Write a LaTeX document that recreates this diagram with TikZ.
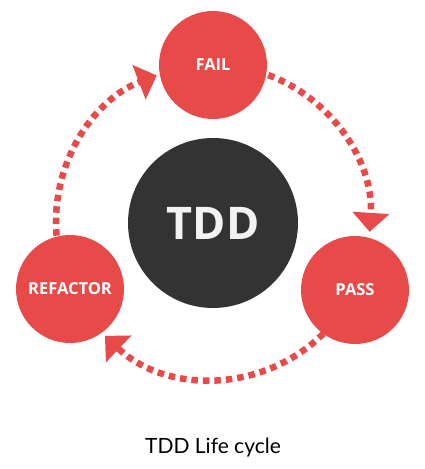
\documentclass[tikz,border=0pt]{standalone}
\usepackage{fontspec}
\setmainfont{Open Sans}
\newfontfamily\capfont{Lato}
\usetikzlibrary{arrows.meta,calc}
\definecolor{tddred}{HTML}{E84A4A}
\definecolor{tdddark}{HTML}{333333}
\definecolor{tddtext}{HTML}{F2F2F2}
\tikzset{
  stage/.style={circle, fill=tddred, minimum size=108pt, inner sep=0pt, text=white, font=\fontsize{16.5}{19}\selectfont\bfseries},
  core/.style={circle, fill=tdddark, minimum size=170pt, inner sep=0pt, text=tddtext, font=\fontsize{45}{50}\selectfont\bfseries},
  cyc/.style={draw=tddred, line width=6.5pt, dash pattern=on 6.5pt off 5pt, line cap=butt,
    -{Triangle[width=36pt,length=19pt]}, fill=none}
}
\begin{document}
\begin{tikzpicture}[x=1pt,y=1pt]
\useasboundingbox (0,0) rectangle (425,469);
\coordinate (C) at (213,247);
\node[core] (tdd) at (213,246) {TDD};
\node[stage] (fail) at (213,404) {FAIL};
\node[stage] (pass) at (355,179) {PASS};
\node[stage] (refactor) at (70,180) {REFACTOR};
\coordinate (a1s) at ($(C)+(69.4:157)$);
\coordinate (a2s) at ($(C)+(-45.3:157)$);
\coordinate (a3s) at ($(C)+(185:157)$);
\draw[cyc] (a1s) arc[start angle=69.4, end angle=-3.6, radius=157];
\draw[cyc] (a2s) arc[start angle=-45.3, end angle=-133.5, radius=157];
\draw[cyc] (a3s) arc[start angle=185, end angle=111, radius=157];
\node[font=\capfont\fontsize{21}{24}\selectfont, text=black, anchor=base] (cap) at (213,16) {TDD Life cycle};
\end{tikzpicture}
\end{document}
